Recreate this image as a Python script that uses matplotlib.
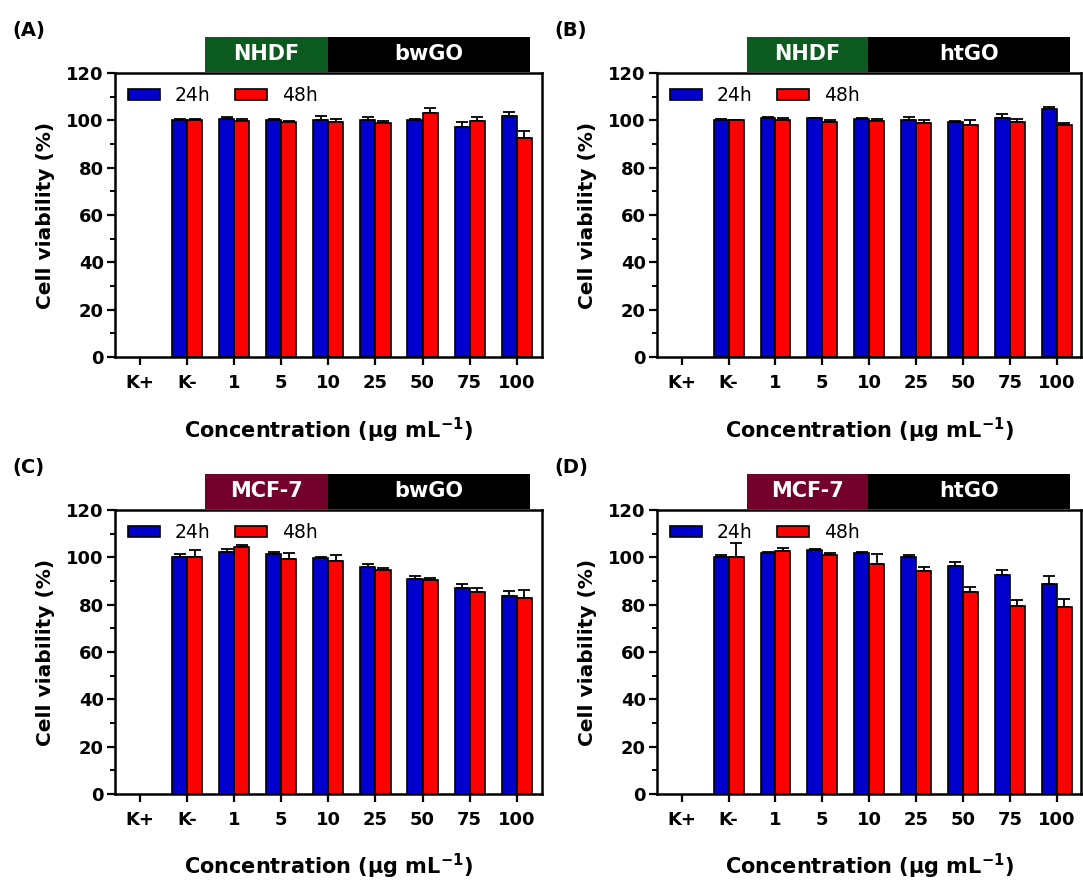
import numpy as np
import matplotlib
matplotlib.use("Agg")
import matplotlib.pyplot as plt
from matplotlib.patches import Rectangle

#Wide sans font to match the (horizontally stretched) lettering of the original
plt.rcParams['font.family'] = ['DejaVu Sans']
plt.rcParams['mathtext.fontset'] = 'custom'
plt.rcParams['mathtext.rm'] = 'DejaVu Sans:bold'
plt.rcParams['mathtext.bf'] = 'DejaVu Sans:bold'
plt.rcParams['mathtext.default'] = 'bf'

#Categories (K+ has no bars)
categories = ["K+", "K-", "1", "5", "10", "25", "50", "75", "100"]

#Panel A: NHDF / bwGO
a_24 = [np.nan, 100.0, 100.4, 100.2, 100.1, 100.0, 100.0, 97.3, 101.9]
a_24_err = [0, 0.7, 1.0, 0.4, 1.6, 1.4, 0.4, 1.8, 1.8]
a_48 = [np.nan, 100.0, 99.7, 99.4, 99.4, 98.8, 103.3, 99.8, 92.6]
a_48_err = [0, 0.6, 1.0, 0.5, 1.3, 1.1, 1.8, 1.7, 3.1]

#Panel B: NHDF / htGO
b_24 = [np.nan, 100.0, 100.9, 100.9, 100.5, 100.1, 99.3, 100.8, 104.9]
b_24_err = [0, 0.6, 0.4, 0.3, 0.4, 1.3, 0.5, 2.0, 0.7]
b_48 = [np.nan, 100.0, 100.2, 99.4, 99.9, 98.7, 98.1, 99.4, 98.1]
b_48_err = [0, 0.3, 0.8, 0.8, 0.6, 1.6, 2.1, 1.1, 0.7]

#Panel C: MCF-7 / bwGO
c_24 = [np.nan, 100.0, 102.2, 101.4, 99.7, 96.1, 90.8, 86.9, 83.7]
c_24_err = [0, 1.3, 1.3, 1.0, 0.6, 1.0, 1.1, 1.7, 2.1]
c_48 = [np.nan, 100.0, 104.3, 99.3, 98.6, 94.6, 90.6, 85.5, 82.8]
c_48_err = [0, 3.2, 1.1, 2.4, 2.4, 0.8, 0.8, 1.4, 3.5]

#Panel D: MCF-7 / htGO
d_24 = [np.nan, 100.0, 102.0, 103.1, 101.8, 100.3, 96.2, 92.7, 88.6]
d_24_err = [0, 0.8, 0.4, 0.6, 0.3, 0.6, 1.7, 1.8, 3.4]
d_48 = [np.nan, 100.0, 102.8, 100.8, 97.3, 94.4, 85.5, 79.6, 79.2]
d_48_err = [0, 5.9, 1.3, 1.1, 3.9, 1.3, 2.1, 2.5, 3.0]

panels = [
    ("(A)", "NHDF", "bwGO", "#0B5A20", a_24, a_24_err, a_48, a_48_err),
    ("(B)", "NHDF", "htGO", "#0B5A20", b_24, b_24_err, b_48, b_48_err),
    ("(C)", "MCF-7", "bwGO", "#72002A", c_24, c_24_err, c_48, c_48_err),
    ("(D)", "MCF-7", "htGO", "#72002A", d_24, d_24_err, d_48, d_48_err),
]

#Axes positions in figure fractions
positions = [
    [0.1062, 0.5952, 0.394, 0.322],
    [0.6066, 0.5952, 0.392, 0.322],
    [0.1062, 0.0998, 0.394, 0.322],
    [0.6066, 0.0998, 0.392, 0.322],
]

fig = plt.figure(figsize=(10.83, 8.82), dpi=100)
x = np.arange(len(categories))
w = 0.32

for pos, (tag, cell, mat, ccol, v24, e24, v48, e48) in zip(positions, panels):
    ax = fig.add_axes(pos)
    ax.bar(x - w/2, v24, w, color="#0000CC", edgecolor="black", linewidth=1.2, label="24h", zorder=2)
    ax.bar(x + w/2, v48, w, color="#FF0000", edgecolor="black", linewidth=1.2, label="48h", zorder=2)
    ax.errorbar(x - w/2, v24, yerr=[np.zeros(len(x)), e24], fmt="none", ecolor="black",
                elinewidth=1.3, capsize=4, capthick=1.3, zorder=1)
    ax.errorbar(x + w/2, v48, yerr=[np.zeros(len(x)), e48], fmt="none", ecolor="black",
                elinewidth=1.3, capsize=4, capthick=1.3, zorder=1)

    ax.set_xlim(-0.53, 8.53)
    ax.set_ylim(0, 120)
    ax.set_yticks(np.arange(0, 121, 20))
    ax.set_yticks(np.arange(10, 120, 20), minor=True)
    ax.set_xticks(x)
    ax.set_xticklabels(categories)
    for s in ax.spines.values():
        s.set_linewidth(1.8)
    ax.tick_params(axis="both", which="major", direction="out", length=6, width=1.6,
                   labelsize=13)
    ax.tick_params(axis="y", which="minor", direction="out", length=3.5, width=1.4)
    for lab in ax.get_xticklabels() + ax.get_yticklabels():
        lab.set_fontweight("bold")
    ax.tick_params(axis="x", pad=6)
    ax.tick_params(axis="y", pad=2)

    ax.set_ylabel("Cell viability (%)", fontsize=14.5, fontweight="bold", labelpad=8)
    ax.set_xlabel("Concentration (\u03bcg mL$^{-1}$)", fontsize=15, fontweight="bold", labelpad=17)

    ax.legend(loc="upper left", ncol=2, frameon=False, fontsize=13.5, handlelength=1.7,
              handleheight=0.6, handletextpad=0.8, columnspacing=1.3,
              borderaxespad=0.3, bbox_to_anchor=(0.0, 1.0))

    #Banner above the axes
    ax.add_patch(Rectangle((0.212, 1.005), 0.286, 0.122, transform=ax.transAxes,
                           facecolor=ccol, edgecolor="none", clip_on=False))
    ax.add_patch(Rectangle((0.498, 1.005), 0.474, 0.122, transform=ax.transAxes,
                           facecolor="black", edgecolor="none", clip_on=False))
    ax.text(0.355, 1.066, cell, transform=ax.transAxes, ha="center", va="center",
            color="white", fontsize=15, fontweight="bold")
    ax.text(0.735, 1.066, mat, transform=ax.transAxes, ha="center", va="center",
            color="white", fontsize=15, fontweight="bold")

    #Panel tag
    bb = ax.get_position()
    fig.text(bb.x0 - 0.095, bb.y1 + 0.048, tag, fontsize=14, fontweight="bold",
             ha="left", va="center")

fig.savefig("out.png", dpi=100)
